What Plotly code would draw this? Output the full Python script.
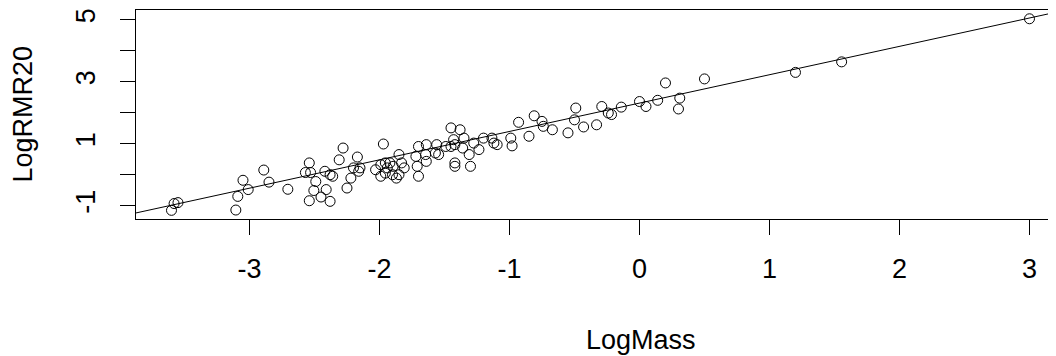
import numpy as np
import plotly.graph_objects as go

log_mass = [
    -3.60, -3.58, -3.55,
    -3.105, -3.09, -3.05, -3.01, -2.89, -2.85, -2.705,
    -2.54, -2.57, -2.53, -2.49, -2.505, -2.54, -2.45, -2.38, -2.41, -2.42,
    -2.38, -2.36, -2.28, -2.31, -2.17, -2.20, -2.15, -2.16, -2.22, -2.25,
    -1.97, -2.03, -1.99, -1.955, -1.92, -1.895, -1.85, -1.83, -1.81, -1.85,
    -1.90, -1.955, -1.99, -1.87, -1.94,
    -1.70, -1.64, -1.56, -1.72, -1.645, -1.57, -1.71, -1.64, -1.70,
    -1.545, -1.49, -1.45, -1.42, -1.43, -1.45, -1.38, -1.35, -1.36, -1.42,
    -1.42, -1.30, -1.31, -1.235, -1.275, -1.20, -1.135, -1.12, -1.095,
    -0.99, -0.98,
    -0.93, -0.85, -0.81, -0.75, -0.74, -0.67, -0.55, -0.49, -0.50, -0.43,
    -0.33, -0.29, -0.24, -0.215, -0.14, 0.00, 0.05, 0.14, 0.20, 0.31,
    0.30, 0.50, 1.20, 1.555, 3.00,
]
log_rmr20 = [
    -1.15, -0.93, -0.90,
    -1.14, -0.70, -0.18, -0.48, 0.15, -0.24, -0.47,
    0.38, 0.07, 0.07, -0.22, -0.51, -0.84, -0.72, -0.86, -0.48, 0.11,
    0.00, -0.05, 0.86, 0.48, 0.57, 0.22, 0.22, 0.11, -0.11, -0.43,
    0.99, 0.16, 0.32, 0.38, 0.38, 0.27, 0.65, 0.38, 0.22, 0.00,
    0.00, 0.05, -0.05, -0.11, 0.22,
    0.91, 0.97, 0.97, 0.59, 0.65, 0.70, 0.27, 0.43, -0.05,
    0.65, 0.91, 0.91, 0.97, 1.13, 1.51, 1.45, 1.18, 0.86, 0.38,
    0.27, 0.27, 0.65, 0.81, 1.02, 1.18, 1.18, 1.02, 0.97,
    1.18, 0.93,
    1.69, 1.24, 1.90, 1.72, 1.56, 1.45, 1.35, 2.15, 1.77, 1.54,
    1.61, 2.20, 1.99, 1.94, 2.18, 2.36, 2.20, 2.40, 2.96, 2.47,
    2.12, 3.09, 3.30, 3.64, 5.03,
]

# fitted regression line (abline)
fit_intercept = 2.31
fit_slope = 0.915

x_ticks = [-3, -2, -1, 0, 1, 2, 3]
y_ticks = [-1, 0, 1, 2, 3, 4, 5]
y_tick_text = ["-1", "", "1", "", "3", "", "5"]

x_range = [-3.873, 3.204]
y_range = [-1.429, 5.313]

line_x = np.array([-4.5, 3.5])
line_y = fit_intercept + fit_slope * line_x

font_family = "Liberation Sans, Arial, sans-serif"
FS = 27

# page body adds an 8px offset; plot area given in figure pixels
W, H = 1048, 356
ML, MT, MB = 128, 2, 145
PW, PH = W - ML, H - MT - MB

fig = go.Figure()
fig.add_trace(go.Scatter(
    x=log_mass, y=log_rmr20, mode="markers",
    marker=dict(symbol="circle-open", size=10, color="black", line=dict(width=1)),
    showlegend=False, hoverinfo="skip",
))
fig.add_trace(go.Scatter(
    x=line_x, y=line_y, mode="lines",
    line=dict(color="black", width=1),
    showlegend=False, hoverinfo="skip",
))

fig.update_layout(
    width=W, height=H,
    margin=dict(l=ML, r=0, t=MT, b=MB, pad=0),
    paper_bgcolor="white", plot_bgcolor="white",
    font=dict(family=font_family, color="black", size=FS),
    xaxis=dict(
        range=x_range, tickvals=x_ticks, ticktext=[str(v) for v in x_ticks],
        showgrid=False, zeroline=False, automargin=False,
        showline=True, mirror=True, linecolor="black", linewidth=1,
        ticks="outside", ticklen=15, tickcolor="black", tickwidth=1,
        ticklabelstandoff=11,
        tickfont=dict(size=FS, color="black"),
    ),
    yaxis=dict(
        range=y_range, tickvals=y_ticks, ticktext=y_tick_text,
        showgrid=False, zeroline=False, automargin=False,
        showline=True, mirror=False, linecolor="black", linewidth=1,
        ticks="outside", ticklen=15, tickcolor="black", tickwidth=1,
        tickangle=-90, ticklabelstandoff=14,
        tickfont=dict(size=FS, color="black"),
    ),
    annotations=[
        dict(text="LogMass", xref="paper", yref="paper",
             x=(633 - ML) / PW, y=-(332 - (MT + PH)) / PH,
             xanchor="center", yanchor="middle", showarrow=False,
             font=dict(size=FS, color="black")),
        dict(text="LogRMR20", xref="paper", yref="paper",
             x=-(ML - 14) / PW, y=0.5, textangle=-90,
             xanchor="center", yanchor="middle", showarrow=False,
             font=dict(size=FS, color="black")),
    ],
)

fig.write_html("out.html")
